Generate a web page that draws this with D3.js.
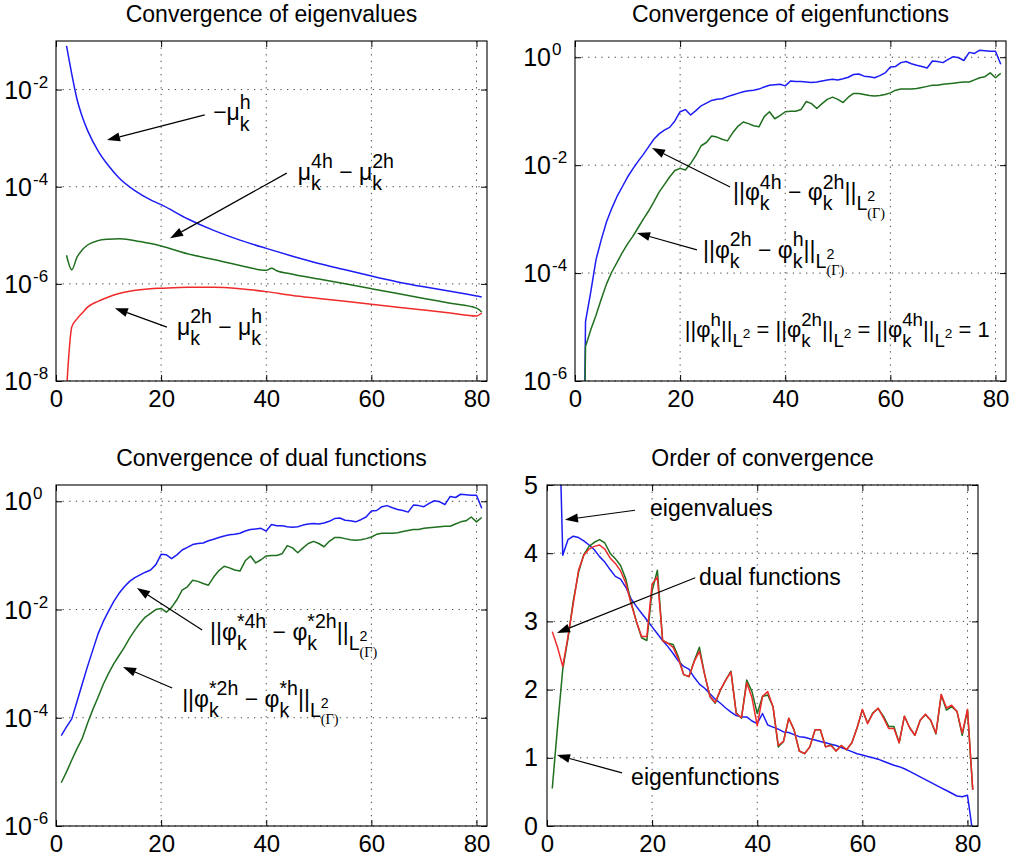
<!DOCTYPE html>
<html>
<head>
<meta charset="utf-8">
<script src="https://cdn.jsdelivr.net/npm/d3@7"></script>
<style>
  body { margin: 0; background: #fff; }
  text { font-family: Helvetica, Arial, "Liberation Sans", sans-serif; fill: #000; white-space: pre; }
</style>
</head>
<body>
<svg id="fig" width="1009" height="859"></svg>
<script>
// mode number k on every x axis
const kTicks = [0, 20, 40, 60, 80];

// panel 1 - convergence of eigenvalues, [k, log10(value)]
const muMinusH = [[2,-1.10],[3,-1.68],[4,-2.20],[5,-2.56],[6,-2.84],[8,-3.26],[10,-3.57],[12,-3.82],
  [15,-4.08],[18,-4.27],[20,-4.37],[25,-4.66],[30,-4.90],[35,-5.10],[40,-5.27],[45,-5.43],[50,-5.58],
  [55,-5.71],[60,-5.84],[65,-5.96],[70,-6.06],[75,-6.15],[80,-6.25],[81,-6.27]];
const mu4hMinus2h = [[2,-5.41],[3,-5.71],[4,-5.45],[5,-5.30],[6,-5.20],[8,-5.11],[10,-5.08],[12,-5.07],
  [14,-5.09],[16,-5.13],[18,-5.17],[20,-5.22],[25,-5.38],[30,-5.50],[35,-5.62],[40,-5.72],[41,-5.68],
  [42,-5.73],[45,-5.80],[50,-5.90],[55,-6.00],[60,-6.10],[65,-6.20],[70,-6.30],[75,-6.40],[80,-6.50],[81,-6.58]];
const mu2hMinusH = [[2,-8.2],[3,-6.89],[4,-6.72],[5,-6.60],[6,-6.48],[8,-6.36],[10,-6.27],[12,-6.20],
  [14,-6.15],[16,-6.12],[18,-6.10],[20,-6.09],[25,-6.07],[30,-6.07],[35,-6.10],[40,-6.16],[45,-6.24],
  [50,-6.30],[55,-6.36],[60,-6.42],[65,-6.48],[70,-6.54],[75,-6.60],[80,-6.66],[81,-6.60]];

// panel 2 - eigenfunctions, log10 values for k = 1..81
const phi4h2h = [-14,-4.90,-4.35,-3.75,-3.38,-3.05,-2.80,-2.58,-2.40,-2.22,
  -2.07,-1.93,-1.80,-1.66,-1.52,-1.42,-1.35,-1.30,-1.18,-1.01,
  -0.97,-1.07,-0.99,-0.90,-0.85,-0.80,-0.78,-0.77,-0.73,-0.70,
  -0.67,-0.64,-0.62,-0.61,-0.59,-0.55,-0.52,-0.51,-0.50,-0.53,
  -0.44,-0.45,-0.45,-0.46,-0.47,-0.46,-0.44,-0.42,-0.41,-0.42,
  -0.40,-0.37,-0.32,-0.31,-0.35,-0.36,-0.38,-0.34,-0.29,-0.18,
  -0.17,-0.10,-0.08,-0.12,-0.15,-0.17,-0.20,-0.07,-0.08,-0.10,
  -0.04,0.01,-0.01,-0.06,0.09,0.07,0.13,0.12,0.11,0.11,-0.13];
const phi2hH = [-14,-5.36,-5.05,-4.78,-4.48,-4.20,-3.98,-3.80,-3.62,-3.46,
  -3.32,-3.16,-3.00,-2.85,-2.68,-2.50,-2.36,-2.22,-2.10,-2.06,
  -2.09,-1.97,-1.82,-1.64,-1.58,-1.46,-1.48,-1.52,-1.55,-1.40,
  -1.28,-1.20,-1.23,-1.27,-1.29,-1.10,-1.01,-1.14,-1.08,-1.01,
  -1.00,-1.00,-0.97,-0.82,-0.86,-0.95,-0.86,-0.78,-0.74,-0.78,
  -0.84,-0.74,-0.67,-0.67,-0.69,-0.71,-0.72,-0.71,-0.69,-0.66,
  -0.61,-0.59,-0.59,-0.59,-0.58,-0.56,-0.54,-0.52,-0.52,-0.50,
  -0.49,-0.48,-0.47,-0.46,-0.46,-0.42,-0.38,-0.36,-0.29,-0.38,-0.30];

// panel 3 - dual functions, log10 values for k = 1..81
const dual4h2h = [-4.33,-4.17,-4.02,-3.70,-3.37,-3.05,-2.75,-2.45,-2.22,-2.03,
  -1.85,-1.70,-1.58,-1.48,-1.41,-1.36,-1.31,-1.27,-1.17,-0.98,
  -0.99,-1.06,-0.99,-0.90,-0.85,-0.80,-0.78,-0.77,-0.73,-0.70,
  -0.67,-0.64,-0.62,-0.61,-0.59,-0.55,-0.52,-0.51,-0.50,-0.55,
  -0.43,-0.45,-0.45,-0.47,-0.48,-0.47,-0.44,-0.42,-0.41,-0.42,
  -0.40,-0.37,-0.32,-0.31,-0.35,-0.36,-0.38,-0.34,-0.29,-0.18,
  -0.17,-0.10,-0.08,-0.12,-0.15,-0.17,-0.20,-0.07,-0.08,-0.10,
  -0.04,0.01,-0.01,-0.06,0.09,0.07,0.13,0.12,0.11,0.11,-0.13];
const dual2hH = [-5.20,-5.00,-4.78,-4.57,-4.38,-4.10,-3.85,-3.62,-3.38,-3.18,
  -3.00,-2.85,-2.70,-2.53,-2.38,-2.25,-2.14,-2.07,-2.00,-1.98,
  -2.05,-1.96,-1.82,-1.64,-1.58,-1.46,-1.48,-1.52,-1.55,-1.40,
  -1.28,-1.20,-1.23,-1.27,-1.29,-1.10,-1.01,-1.14,-1.08,-1.01,
  -1.00,-1.00,-0.97,-0.82,-0.86,-0.95,-0.86,-0.78,-0.74,-0.78,
  -0.84,-0.74,-0.67,-0.67,-0.69,-0.71,-0.72,-0.71,-0.69,-0.66,
  -0.61,-0.59,-0.59,-0.59,-0.58,-0.56,-0.54,-0.52,-0.52,-0.50,
  -0.49,-0.48,-0.47,-0.46,-0.46,-0.42,-0.38,-0.36,-0.29,-0.38,-0.30];

// panel 4 - order of convergence
const orderEigval = [7.0,3.97,4.20,4.25,4.23,4.18,4.12,4.05,3.95,3.87, // k = 2..11
  3.76,3.66,3.62,3.50,3.33,3.22,3.12,3.02,2.92,2.82,
  2.72,2.63,2.53,2.42,2.34,2.30,2.18,2.08,2.02,1.94,
  1.86,1.80,1.73,1.67,1.62,1.60,1.60,1.54,1.50,1.65,
  1.48,1.45,1.42,1.38,1.37,1.34,1.31,1.30,1.28,1.26,
  1.24,1.22,1.20,1.18,1.15,1.12,1.09,1.06,1.04,1.02,
  1.00,0.98,0.95,0.92,0.89,0.87,0.84,0.80,0.76,0.72,
  0.68,0.64,0.60,0.56,0.52,0.48,0.44,0.43,0.45,-0.1];
const orderEigfun = [0.55,1.45,2.30,2.75,3.30,3.72,3.98,4.10,4.16,4.20, // k = 1..10
  4.15,4.00,3.92,3.82,3.62,3.28,3.00,2.76,2.72,3.45,
  3.75,2.72,2.68,2.66,2.48,2.22,2.19,2.42,2.62,2.22,
  1.90,1.80,1.99,2.14,2.27,1.66,1.58,2.14,1.97,1.65,
  1.90,1.92,1.75,1.16,1.24,1.58,1.41,1.10,1.06,1.16,
  1.41,1.41,1.16,1.19,1.10,1.18,1.12,1.22,1.44,1.70,
  1.51,1.66,1.72,1.61,1.46,1.46,1.22,1.61,1.44,1.33,
  1.55,1.63,1.55,1.35,1.92,1.70,1.75,1.68,1.33,1.70,0.53];
const orderDual = [2.85,2.62,2.34,2.78,3.26,3.75,3.97,4.06,4.10,4.12, // k = 1..10
  4.06,3.93,3.85,3.74,3.56,3.26,3.00,2.78,2.78,3.55,
  3.65,2.72,2.68,2.62,2.45,2.22,2.19,2.41,2.56,2.22,
  1.90,1.81,2.00,2.14,2.26,1.65,1.59,2.10,1.88,1.47,
  1.90,1.97,1.75,1.18,1.24,1.58,1.41,1.10,1.06,1.16,
  1.41,1.41,1.16,1.18,1.10,1.18,1.12,1.22,1.44,1.71,
  1.50,1.65,1.73,1.59,1.43,1.43,1.22,1.61,1.44,1.33,
  1.55,1.64,1.55,1.36,1.93,1.73,1.77,1.68,1.36,1.71,0.53];

const BLUE = "#1c1cf5", GREEN = "#1f6f1f", RED = "#f02a2a";
const SP = "\u00a0";

// pieces of tex-like labels: [text, shift (em of base), scale, stackOnPrev, serif]
const b = s => [s, 0, 1];
const sub = s => [s, 0.45, 0.85];
const sup = s => [s, -0.5, 0.85, true];
const l2 = ["2", 0.06, 0.62];
const lG = ["(Γ)", 0.76, 0.62, true, true];

const svg = d3.select("#fig");

function withK(vals, k0) { return vals.map((v, i) => [k0 + i, v]); }

function mathText(g, x, y, parts, size) {
  var cx = x, start = x;
  parts.forEach(function(p) {
    var sx = p[3] ? start : cx;
    var t = g.append("text")
      .attr("x", sx).attr("y", y + p[1] * size)
      .attr("font-size", size * p[2])
      .text(p[0]);
    if (p[4]) t.style("font-family", "'Liberation Serif', 'Times New Roman', serif");
    var w = t.node().getComputedTextLength();
    if (p[3]) { cx = Math.max(cx, sx + w); }
    else { start = sx; cx = sx + w; }
  });
}

function arrow(g, x1, y1, x2, y2) {
  var a = Math.atan2(y2 - y1, x2 - x1), L = 13, hw = 4.5;
  var bx = x2 - L * Math.cos(a), by = y2 - L * Math.sin(a);
  g.append("line")
    .attr("x1", x1).attr("y1", y1).attr("x2", bx).attr("y2", by)
    .attr("stroke", "#000").attr("stroke-width", 1.2);
  g.append("path")
    .attr("d", `M${x2},${y2}L${bx - hw * Math.sin(a)},${by + hw * Math.cos(a)}L${bx + hw * Math.sin(a)},${by - hw * Math.cos(a)}Z`)
    .attr("fill", "#000");
}

function drawPanel(p, idx) {
  var w = p.box[2], h = p.box[3];
  var g = svg.append("g").attr("transform", `translate(${p.box[0]},${p.box[1]})`);
  var x = d3.scaleLinear().domain([0, 82]).range([0, w]);
  var y = (p.log ? d3.scaleLog() : d3.scaleLinear()).domain(p.yDomain).range([h, 0]);
  var val = p.log ? (v => Math.pow(10, v)) : (v => v);

  g.append("text")
    .attr("x", w / 2).attr("y", -19)
    .attr("text-anchor", "middle").attr("font-size", 23)
    .text(p.title);

  // dotted grid
  var grid = g.append("g").attr("stroke", "#444").attr("stroke-width", 1).attr("stroke-dasharray", "1.3,5.3");
  grid.selectAll(".gx").data(kTicks.filter(t => t > 0)).join("line")
    .attr("x1", d => x(d)).attr("x2", d => x(d)).attr("y1", 0).attr("y2", h);
  grid.selectAll(".gy").data(p.yTicks).join("line")
    .attr("x1", 0).attr("x2", w).attr("y1", d => y(d)).attr("y2", d => y(d));

  g.append("defs").append("clipPath").attr("id", "clip" + idx)
    .append("rect").attr("width", w).attr("height", h);

  var line = d3.line().x(d => x(d[0])).y(d => y(val(d[1])));
  var smooth = d3.line().curve(d3.curveMonotoneX).x(d => x(d[0])).y(d => y(val(d[1])));
  g.append("g").attr("clip-path", `url(#clip${idx})`)
    .selectAll("path").data(p.series).join("path")
    .attr("d", d => (p.smooth ? smooth : line)(d.data))
    .attr("fill", "none")
    .attr("stroke", d => d.color)
    .attr("stroke-width", 1.5)
    .attr("stroke-linejoin", "round");

  // box and inward ticks on all four sides
  g.append("rect").attr("width", w).attr("height", h)
    .attr("fill", "none").attr("stroke", "#000").attr("stroke-width", 1.1);

  var xb = g.append("g").attr("transform", `translate(0,${h})`)
    .call(d3.axisBottom(x).tickValues(kTicks).tickSizeInner(-6).tickSizeOuter(0).tickPadding(9));
  xb.attr("font-size", 24).attr("font-family", null);
  g.append("g").call(d3.axisTop(x).tickValues(kTicks).tickSizeInner(-6).tickSizeOuter(0).tickFormat(""));
  g.append("g").attr("transform", `translate(${w},0)`)
    .call(d3.axisRight(y).tickValues(p.yTicks).tickSizeInner(-6).tickSizeOuter(0).tickFormat(""));
  var yl = g.append("g")
    .call(d3.axisLeft(y).tickValues(p.yTicks).tickSizeInner(-6).tickSizeOuter(0).tickPadding(9)
      .tickFormat(p.log ? "" : d3.format("d")));
  yl.attr("font-size", 25).attr("font-family", null);
  g.selectAll(".domain").remove();
  g.selectAll(".tick line").attr("stroke", "#000");

  if (p.log) {
    g.selectAll(".ten").data(p.yTicks).join("text")
      .attr("x", -24).attr("y", d => y(d) + 9)
      .attr("text-anchor", "end").attr("font-size", 25)
      .text("10");
    g.selectAll(".ex").data(p.yTicks).join("text")
      .attr("x", -23).attr("y", d => y(d) - 2)
      .attr("font-size", 17)
      .text(d => String(Math.round(Math.log10(d))));
  }

  var notes = g.append("g");
  p.arrows.forEach(function(a) {
    arrow(notes, x(a[0][0]), y(val(a[0][1])), x(a[1][0]), y(val(a[1][1])));
  });
  p.notes.forEach(function(n) {
    mathText(notes, x(n.at[0]), y(val(n.at[1])), n.parts, n.size || 23);
  });
}

const minus = SP + "−" + SP;
const eq = " = ||φ";
const panels = [
  {
    title: "Convergence of eigenvalues", box: [56, 41, 431, 340], log: true, smooth: true,
    yDomain: [1e-8, 1e-1], yTicks: [1e-8, 1e-6, 1e-4, 1e-2],
    series: [
      { data: muMinusH, color: BLUE },
      { data: mu4hMinus2h, color: GREEN },
      { data: mu2hMinusH, color: RED }
    ],
    notes: [
      { at: [29.9, -2.63], parts: [b("−μ"), sub("k"), sup("h")] },
      { at: [46.0, -3.86], parts: [b("μ"), sub("k"), sup("4h"), b(minus + "μ"), sub("k"), sup("2h")] },
      { at: [23.0, -7.05], parts: [b("μ"), sub("k"), sup("2h"), b(minus + "μ"), sub("k"), sup("h")] }
    ],
    arrows: [[[28.3, -2.52], [9.7, -3.04]], [[43.9, -3.72], [21.7, -5.06]], [[21.1, -6.89], [11.2, -6.50]]]
  },
  {
    title: "Convergence of eigenfunctions", box: [575, 41, 431, 340], log: true,
    yDomain: [1e-6, 2], yTicks: [1e-6, 1e-4, 1e-2, 1],
    series: [
      { data: withK(phi4h2h, 1), color: BLUE },
      { data: withK(phi2hH, 1), color: GREEN }
    ],
    notes: [
      { at: [30.06, -2.646], parts: [b("||φ"), sub("k"), sup("4h"), b(minus + "φ"), sub("k"), sup("2h"), b("||"), sub("L"), l2, lG] },
      { at: [24.35, -3.72], parts: [b("||φ"), sub("k"), sup("2h"), b(minus + "φ"), sub("k"), sup("h"), b("||"), sub("L"), l2, lG] },
      { at: [20.9, -5.18], size: 22, parts: [b("||φ"), sub("k"), sup("h"), b("||"), sub("L"), l2,
        b(eq), sub("k"), sup("2h"), b("||"), sub("L"), l2,
        b(eq), sub("k"), sup("4h"), b("||"), sub("L"), l2, b(" = 1")] }
    ],
    arrows: [[[29.5, -2.405], [14.65, -1.682]], [[23.2, -3.57], [11.8, -3.257]]]
  },
  {
    title: "Convergence of dual functions", box: [56, 485, 431, 341], log: true,
    yDomain: [1e-6, 2], yTicks: [1e-6, 1e-4, 1e-2, 1],
    series: [
      { data: withK(dual4h2h, 1), color: BLUE },
      { data: withK(dual2hH, 1), color: GREEN }
    ],
    notes: [
      { at: [29.3, -2.56], parts: [b("||φ"), sub("k"), sup("*4h"), b(minus + "φ"), sub("k"), sup("*2h"), b("||"), sub("L"), l2, lG] },
      { at: [24.0, -3.80], parts: [b("||φ"), sub("k"), sup("*2h"), b(minus + "φ"), sub("k"), sup("*h"), b("||"), sub("L"), l2, lG] }
    ],
    arrows: [[[27.8, -2.378], [15.4, -1.602]], [[22.1, -3.45], [12.75, -3.06]]]
  },
  {
    title: "Order of convergence", box: [547, 485, 431, 341], log: false,
    yDomain: [0, 5], yTicks: [0, 1, 2, 3, 4, 5],
    series: [
      { data: withK(orderEigval, 2), color: BLUE },
      { data: withK(orderEigfun, 1), color: GREEN },
      { data: withK(orderDual, 1), color: RED }
    ],
    notes: [
      { at: [19.6, 4.545], parts: [b("eigenvalues")] },
      { at: [28.9, 3.53], parts: [b("dual functions")] },
      { at: [16.0, 0.60], parts: [b("eigenfunctions")] }
    ],
    arrows: [[[16.74, 4.63], [3.42, 4.49]], [[28.2, 3.64], [1.9, 2.83]], [[14.27, 0.78], [1.9, 1.04]]]
  }
];

panels.forEach(drawPanel);
</script>
</body>
</html>
